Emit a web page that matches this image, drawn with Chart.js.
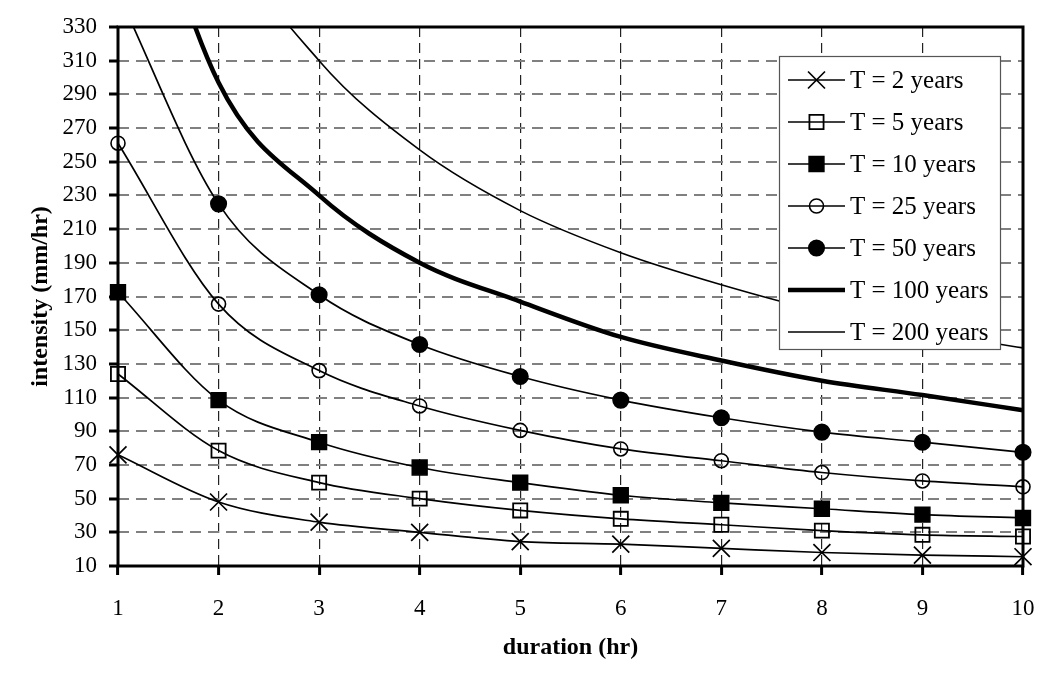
<!DOCTYPE html>
<html>
<head>
<meta charset="utf-8">
<script src="https://cdn.jsdelivr.net/npm/chart.js@4/dist/chart.umd.min.js"></script>
<style>
  html, body { margin: 0; padding: 0; background: #fff; }
  #wrap { width: 1052px; height: 678px; }
</style>
</head>
<body>
<div id="wrap"><canvas id="c" width="1052" height="678"></canvas></div>
<script>
// ---- data ----
const durations = ["1", "2", "3", "4", "5", "6", "7", "8", "9", "10"];
const yTicks = [10, 30, 50, 70, 90, 110, 130, 150, 170, 190, 210, 230, 250, 270, 290, 310, 330];
const seriesNames = ["T = 2 years", "T = 5 years", "T = 10 years", "T = 25 years", "T = 50 years", "T = 100 years", "T = 200 years"];
const t2   = [76, 48, 36, 30, 24.5, 23, 20.5, 18, 16.5, 15.5];
const t5   = [124, 78.5, 59.5, 50, 43, 38, 34.5, 31, 28.5, 27.5];
const t10  = [172.5, 108.5, 83.5, 68.5, 59.5, 52, 47.5, 44, 40.5, 38.5];
const t25  = [261, 165.5, 126, 105, 90.5, 79.5, 72.5, 65.5, 60.5, 57];
const t50  = [350, 225, 171, 141.5, 122.5, 108.5, 98, 89.5, 83.5, 77.5];
const t100 = [470, 297, 230, 190, 167, 146, 132, 120, 111.5, 102.5];
const t200 = [560, 395, 310, 257, 221, 196, 177, 161, 149, 139.5];
const xTitle = "duration (hr)";
const yTitle = "intensity (mm/hr)";

const CLEAR = 'rgba(0,0,0,0)';
const clipBox = { left: 14, right: 14, top: 0, bottom: 14 };

function ds(label, data, style, radius, fillColor, lineW, pbw) {
  return {
    label: label,
    data: data,
    borderColor: '#000',
    backgroundColor: '#000',
    borderWidth: lineW,
    pointStyle: style,
    pointRadius: radius,
    pointHoverRadius: radius,
    pointBackgroundColor: fillColor,
    pointBorderColor: '#000',
    pointBorderWidth: pbw,
    cubicInterpolationMode: 'monotone',
    fill: false,
    clip: clipBox
  };
}

const datasets = [
  ds(seriesNames[0], t2, 'crossRot', 12, '#000', 1.7, 1.7),
  ds(seriesNames[1], t5, 'rect', 10, CLEAR, 1.7, 1.8),
  ds(seriesNames[2], t10, 'rect', 10.5, '#000', 1.7, 1.5),
  ds(seriesNames[3], t25, 'circle', 7, CLEAR, 1.7, 1.6),
  ds(seriesNames[4], t50, 'circle', 7.8, '#000', 1.7, 1.5),
  ds(seriesNames[5], t100, 'circle', 0, '#000', 4.5, 0),
  ds(seriesNames[6], t200, 'circle', 0, '#000', 1.6, 0)
];

const SERIF = '"Liberation Serif", "Times New Roman", Times, serif';

function drawMarker(ctx, d, x, y) {
  const r = d.pointRadius;
  if (!r) return;
  ctx.save();
  ctx.lineWidth = d.pointBorderWidth;
  ctx.strokeStyle = '#000';
  ctx.fillStyle = d.pointBackgroundColor;
  ctx.beginPath();
  if (d.pointStyle === 'crossRot') {
    const s = r * Math.SQRT1_2;
    ctx.moveTo(x - s, y - s); ctx.lineTo(x + s, y + s);
    ctx.moveTo(x - s, y + s); ctx.lineTo(x + s, y - s);
    ctx.stroke();
  } else if (d.pointStyle === 'rect') {
    const s = r * Math.SQRT1_2;
    ctx.rect(x - s, y - s, 2 * s, 2 * s);
    ctx.fill(); ctx.stroke();
  } else {
    ctx.arc(x, y, r, 0, Math.PI * 2);
    ctx.fill(); ctx.stroke();
  }
  ctx.restore();
}

const framePlugin = {
  id: 'frame',
  beforeDatasetsDraw(chart) {
    const a = chart.chartArea, ctx = chart.ctx;
    ctx.save();
    ctx.strokeStyle = '#000';
    ctx.lineWidth = 3;
    ctx.strokeRect(a.left, a.top, a.right - a.left, a.bottom - a.top);
    ctx.restore();
  },
  afterDatasetsDraw(chart) {
    const a = chart.chartArea, ctx = chart.ctx;
    const bx = a.right - 244, by = a.top + 29, bw = 221, bh = 293;
    ctx.save();
    ctx.fillStyle = '#fff';
    ctx.fillRect(bx, by, bw, bh);
    ctx.strokeStyle = '#555';
    ctx.lineWidth = 1.2;
    ctx.strokeRect(bx + 0.5, by + 0.5, bw, bh);
    chart.data.datasets.forEach((d, i) => {
      const y = by + 24 + i * 42;
      ctx.beginPath();
      ctx.strokeStyle = '#000';
      ctx.lineWidth = d.borderWidth;
      ctx.moveTo(bx + 9, y);
      ctx.lineTo(bx + 66, y);
      ctx.stroke();
      drawMarker(ctx, d, bx + 37.5, y);
      ctx.fillStyle = '#000';
      ctx.font = '25px ' + SERIF;
      ctx.textBaseline = 'middle';
      ctx.textAlign = 'left';
      ctx.fillText(d.label, bx + 71, y + 1);
    });
    ctx.restore();
  }
};

new Chart(document.getElementById('c'), {
  type: 'line',
  data: { labels: durations, datasets: datasets },
  options: {
    responsive: false,
    devicePixelRatio: 1,
    animation: false,
    layout: { autoPadding: false, padding: { top: 27, right: 29, left: 0, bottom: 0 } },
    plugins: { legend: { display: false }, tooltip: { enabled: false } },
    scales: {
      x: {
        type: 'category',
        offset: false,
        afterFit(s) { s.height = 112; s.paddingLeft = 0; s.paddingRight = 0; },
        grid: {
          color: '#222', lineWidth: 1.2,
          borderDash: [10, 6],
          drawTicks: true, tickLength: 9, tickWidth: 3, tickColor: '#000',
          tickBorderDash: []
        },
        border: { display: false, dash: [10, 6] },
        ticks: { color: '#000', font: { family: SERIF, size: 23 }, padding: 20, maxRotation: 0, autoSkip: false },
        title: { display: true, text: xTitle, color: '#000', font: { family: SERIF, size: 24, weight: 'bold' }, padding: { top: 0, bottom: 16 } }
      },
      y: {
        type: 'linear',
        min: yTicks[0], max: yTicks[yTicks.length - 1],
        afterFit(s) { s.width = 118; },
        afterBuildTicks(s) { s.ticks = yTicks.map(v => ({ value: v })); },
        grid: {
          color: '#808080', lineWidth: 2,
          borderDash: [11, 7],
          drawTicks: true, tickLength: 9, tickWidth: 3, tickColor: '#000',
          tickBorderDash: []
        },
        border: { display: false, dash: [11, 7] },
        ticks: { color: '#000', font: { family: SERIF, size: 23 }, padding: 12 },
        title: { display: true, text: yTitle, color: '#000', font: { family: SERIF, size: 24, weight: 'bold' }, padding: { top: 26, bottom: 0 } }
      }
    }
  },
  plugins: [framePlugin]
});
</script>
</body>
</html>
